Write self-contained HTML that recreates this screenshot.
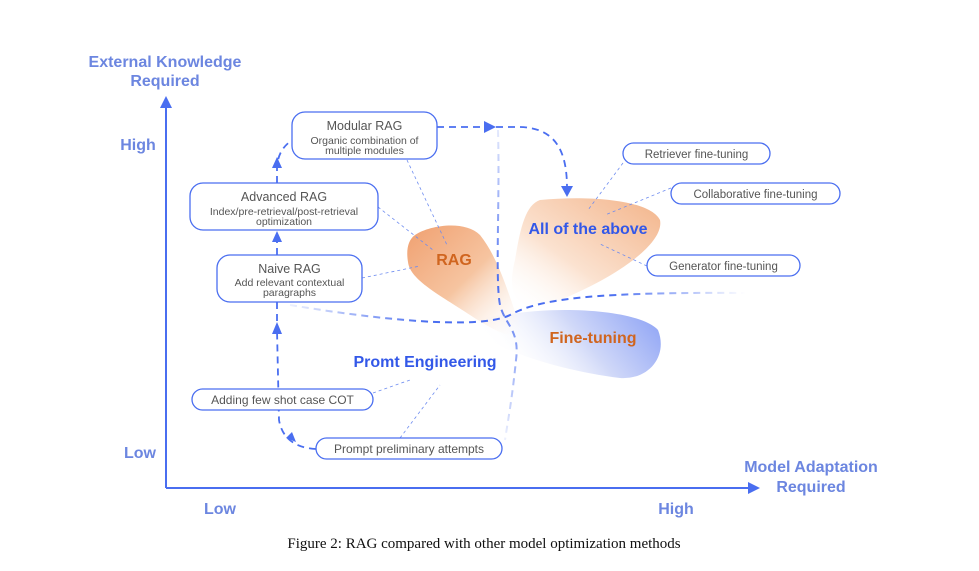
<!DOCTYPE html>
<html><head><meta charset="utf-8"><style>
body{margin:0;background:#fff;}
svg{display:block;}
.ax{font-family:"Liberation Sans",sans-serif;font-weight:bold;font-size:16px;fill:#6c86e0;}
.bt{font-family:"Liberation Sans",sans-serif;font-size:12.5px;fill:#555;}
.st{font-family:"Liberation Sans",sans-serif;font-size:10.5px;fill:#555;}
.box{fill:#fff;stroke:#4a6ef0;stroke-width:1.3;}
.dl{fill:none;stroke:#4a6ef0;stroke-width:1.8;stroke-dasharray:7 5;}
.thin{fill:none;stroke:#6e8cf0;stroke-width:0.8;stroke-dasharray:3 3;}
</style></head><body>
<svg width="979" height="571" viewBox="0 0 979 571" xmlns="http://www.w3.org/2000/svg">
<defs>
<linearGradient id="og" x1="0" y1="0" x2="1" y2="1"><stop offset="0" stop-color="#f0a070"/><stop offset="0.5" stop-color="#f6c4a0"/><stop offset="1" stop-color="#fff" stop-opacity="0"/></linearGradient>
<linearGradient id="ag" x1="1" y1="0" x2="0" y2="1"><stop offset="0" stop-color="#f3b48a"/><stop offset="0.6" stop-color="#fbe2d0"/><stop offset="1" stop-color="#fff" stop-opacity="0"/></linearGradient>
<linearGradient id="bg" x1="1" y1="0" x2="0" y2="0.3"><stop offset="0" stop-color="#8aa0f5"/><stop offset="0.5" stop-color="#d0d8f8"/><stop offset="1" stop-color="#fff" stop-opacity="0"/></linearGradient>
<linearGradient id="hf" x1="0" y1="0" x2="1" y2="0"><stop offset="0" stop-color="#4a6ef0" stop-opacity="0.1"/><stop offset="0.3" stop-color="#4a6ef0"/><stop offset="0.7" stop-color="#4a6ef0"/><stop offset="1" stop-color="#4a6ef0" stop-opacity="0"/></linearGradient>
<linearGradient id="vf" x1="0" y1="0" x2="0" y2="1"><stop offset="0" stop-color="#4a6ef0" stop-opacity="0.15"/><stop offset="0.5" stop-color="#4a6ef0"/><stop offset="1" stop-color="#4a6ef0" stop-opacity="0.1"/></linearGradient>
</defs>
<!-- blobs -->
<path d="M540 200 C590 195 650 200 660 220 C665 245 610 280 560 300 C520 315 505 300 515 260 C520 230 525 205 540 200Z" fill="url(#ag)"/>
<path d="M505 315 C560 305 640 310 658 330 C668 355 650 380 620 378 C570 372 510 355 480 335 C470 322 485 316 505 315Z" fill="url(#bg)"/>
<path d="M415 235 C430 225 465 220 480 235 C500 260 510 300 520 325 C525 345 500 335 470 315 C440 295 410 280 408 262 C406 250 408 240 415 235Z" fill="url(#og)"/>
<!-- axes -->
<line x1="166" y1="488" x2="166" y2="104" stroke="#4a6ef0" stroke-width="2"/>
<path d="M160 108 L166 96 L172 108Z" fill="#4a6ef0"/>
<line x1="166" y1="488" x2="752" y2="488" stroke="#4a6ef0" stroke-width="2"/>
<path d="M748 482 L760 488 L748 494Z" fill="#4a6ef0"/>
<text class="ax" x="165" y="67" text-anchor="middle">External Knowledge</text>
<text class="ax" x="165" y="86" text-anchor="middle">Required</text>
<text class="ax" x="138" y="150" text-anchor="middle">High</text>
<text class="ax" x="140" y="458" text-anchor="middle">Low</text>
<text class="ax" x="220" y="514" text-anchor="middle">Low</text>
<text class="ax" x="676" y="514" text-anchor="middle">High</text>
<text class="ax" x="811" y="472" text-anchor="middle">Model Adaptation</text>
<text class="ax" x="811" y="492" text-anchor="middle">Required</text>
<!-- big dashed curves -->
<path d="M498 130 C500 200 495 280 500 305 C505 325 520 330 516 360 C512 400 508 420 505 440" fill="none" stroke="url(#vf)" stroke-width="2" stroke-dasharray="7 5"/>
<path d="M290 305 C380 320 480 330 510 315 C540 298 600 292 745 293" fill="none" stroke="url(#hf)" stroke-width="2" stroke-dasharray="7 5"/>
<!-- flow dashed -->
<path class="dl" d="M316 449 C295 448 282 438 279 420 L277 330"/>
<path d="M272 334 L277 322 L282 334Z" fill="#4a6ef0"/>
<path d="M292 432 L296 442 L286 438Z" fill="#4a6ef0"/>
<path class="dl" d="M277 302 L277 322"/>
<path class="dl" d="M277 255 L277 238"/>
<path d="M272 242 L277 231 L282 242Z" fill="#4a6ef0"/>
<path class="dl" d="M277 183 L277 165 C279 152 284 146 292 140"/>
<path d="M272 168 L277 157 L282 168Z" fill="#4a6ef0"/>
<path class="dl" d="M437 127 L488 127"/>
<path d="M484 121 L496 127 L484 133Z" fill="#4a6ef0"/>
<path class="dl" d="M496 127 L520 127 C555 128 567 150 567 188"/>
<path d="M561 186 L567 197 L573 186Z" fill="#4a6ef0"/>
<!-- thin connectors -->
<path class="thin" d="M407 160 L447 245"/>
<path class="thin" d="M378 207 L433 250"/>
<path class="thin" d="M362 278 L420 266"/>
<path class="thin" d="M623 163 L588 210"/>
<path class="thin" d="M671 188 L605 215"/>
<path class="thin" d="M647 266 L600 244"/>
<path class="thin" d="M373 393 L410 380"/>
<path class="thin" d="M400 438 L440 385"/>
<!-- boxes -->
<rect class="box" x="292" y="112" width="145" height="47" rx="13"/>
<text class="bt" x="364.5" y="130" text-anchor="middle">Modular RAG</text>
<text class="st" x="364.5" y="144" text-anchor="middle">Organic combination of</text>
<text class="st" x="364.5" y="154" text-anchor="middle">multiple modules</text>
<rect class="box" x="190" y="183" width="188" height="47" rx="13"/>
<text class="bt" x="284" y="201" text-anchor="middle">Advanced RAG</text>
<text class="st" x="284" y="215" text-anchor="middle">Index/pre-retrieval/post-retrieval</text>
<text class="st" x="284" y="225" text-anchor="middle">optimization</text>
<rect class="box" x="217" y="255" width="145" height="47" rx="13"/>
<text class="bt" x="289.5" y="273" text-anchor="middle">Naive RAG</text>
<text class="st" x="289.5" y="286" text-anchor="middle">Add relevant contextual</text>
<text class="st" x="289.5" y="296" text-anchor="middle">paragraphs</text>
<rect class="box" x="623" y="143" width="147" height="21" rx="10.5"/>
<text class="st" x="696.5" y="158" text-anchor="middle" style="font-size:11.5px">Retriever fine-tuning</text>
<rect class="box" x="671" y="183" width="169" height="21" rx="10.5"/>
<text class="st" x="755.5" y="198" text-anchor="middle" style="font-size:11.5px">Collaborative fine-tuning</text>
<rect class="box" x="647" y="255" width="153" height="21" rx="10.5"/>
<text class="st" x="723.5" y="270" text-anchor="middle" style="font-size:11.5px">Generator fine-tuning</text>
<rect class="box" x="192" y="389" width="181" height="21" rx="10.5"/>
<text class="bt" x="282.5" y="404" text-anchor="middle" style="font-size:12px">Adding few shot case COT</text>
<rect class="box" x="316" y="438" width="186" height="21" rx="10.5"/>
<text class="bt" x="409" y="453" text-anchor="middle" style="font-size:12px">Prompt preliminary attempts</text>
<!-- big labels -->
<text class="ax" x="454" y="265" text-anchor="middle" style="fill:#d0651f">RAG</text>
<text class="ax" x="588" y="234" text-anchor="middle" style="fill:#3358e8">All of the above</text>
<text class="ax" x="593" y="343" text-anchor="middle" style="fill:#d0651f">Fine-tuning</text>
<text class="ax" x="425" y="367" text-anchor="middle" style="fill:#3358e8">Promt Engineering</text>
<text x="484" y="548" text-anchor="middle" style="font-family:'Liberation Serif',serif;font-size:15px;fill:#111">Figure 2: RAG compared with other model optimization methods</text>
</svg>
</body></html>
